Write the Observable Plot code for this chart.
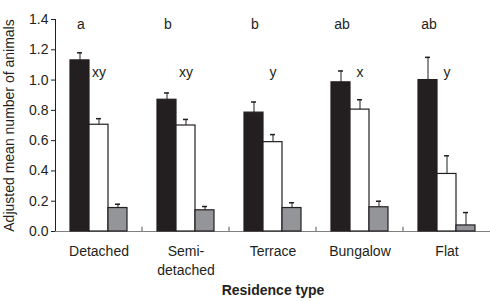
<!DOCTYPE html>
<html>
<head>
<meta charset="utf-8">
<script src="https://cdn.jsdelivr.net/npm/d3@7"></script>
<script src="https://cdn.jsdelivr.net/npm/@observablehq/plot@0.6"></script>
<style>
  html, body { margin: 0; padding: 0; background: #fff; }
  #chart svg { display: block; }
  [aria-label="fx-axis label"] text { font-weight: bold; }
</style>
</head>
<body>
<div id="chart"></div>
<script>
// Data
const categories = ["Detached", "Semi-detached", "Terrace", "Bungalow", "Flat"];
const seriesNames = ["Series 1", "Series 2", "Series 3"];
const values1 = [1.13, 0.87, 0.785, 0.985, 1.0];
const errors1 = [0.05, 0.045, 0.07, 0.075, 0.15];
const values2 = [0.705, 0.70, 0.59, 0.805, 0.38];
const errors2 = [0.04, 0.04, 0.05, 0.065, 0.12];
const values3 = [0.155, 0.14, 0.155, 0.16, 0.04];
const errors3 = [0.025, 0.025, 0.035, 0.04, 0.085];
const groupLetters = ["a", "b", "b", "ab", "ab"];
const secondLetters = ["xy", "xy", "y", "x", "y"];
const yTicks = [0, 0.2, 0.4, 0.6, 0.8, 1.0, 1.2, 1.4];
const seriesColors = ["#231f20", "#ffffff", "#939598"];

const allValues = [values1, values2, values3];
const allErrors = [errors1, errors2, errors3];
const rows = [];
categories.forEach((cat, i) => {
  seriesNames.forEach((s, j) => {
    rows.push({cat, series: s, value: allValues[j][i], err: allErrors[j][i]});
  });
});
const catRows = categories.map((cat, i) => ({cat, group: groupLetters[i], second: secondLetters[i]}));
const boundaries = categories.slice(0, -1);

const chart = Plot.plot({
  width: 490,
  height: 301,
  marginLeft: 54,
  marginRight: 0,
  marginTop: 19,
  marginBottom: 70,
  style: {fontFamily: "'Liberation Sans', Arial, sans-serif", fontSize: "14px", color: "#231f20"},
  fx: {domain: categories, paddingInner: 0, paddingOuter: 0},
  x: {domain: seriesNames, paddingInner: 0, paddingOuter: 0.73, axis: null},
  y: {domain: [0, 1.4], ticks: yTicks, tickFormat: d3.format(".1f"), tickSize: 4, tickPadding: 3,
      line: true, label: "Adjusted mean number of animals", labelAnchor: "center", labelArrow: "none"},
  color: {domain: seriesNames, range: seriesColors},
  marks: [
    Plot.ruleY([0], {stroke: "#808080"}),
    Plot.ruleX(boundaries, {fx: d => d, x: () => seriesNames[2], dx: 24, y1: 0, y2: 0.028, stroke: "#555"}),
    Plot.ruleX(rows, {fx: "cat", x: "series", y1: "value", y2: d => d.value + d.err, stroke: "#231f20"}),
    Plot.tickY(rows, {fx: "cat", x: "series", y: d => d.value + d.err, insetLeft: 7, insetRight: 7, stroke: "#231f20", strokeWidth: 1.5}),
    Plot.barY(rows, {fx: "cat", x: "series", y: "value", fill: "series", stroke: "#231f20", strokeWidth: 1.2}),
    Plot.text(catRows, {fx: "cat", x: () => seriesNames[0], text: "group", frameAnchor: "top", dx: 1, fontSize: 14, fill: "#231f20"}),
    Plot.text(catRows, {fx: "cat", x: () => seriesNames[1], text: "second", frameAnchor: "top", dy: 48, fontSize: 14, fill: "#231f20"}),
    Plot.axisFx({anchor: "bottom", tickSize: 0, tickPadding: 12, lineHeight: 1.3,
                 tickFormat: d => d.replace("-", "-\n"),
                 label: "Residence type", labelAnchor: "center", labelOffset: 63, labelArrow: "none"})
  ]
});
document.getElementById("chart").appendChild(chart);
</script>
</body>
</html>
